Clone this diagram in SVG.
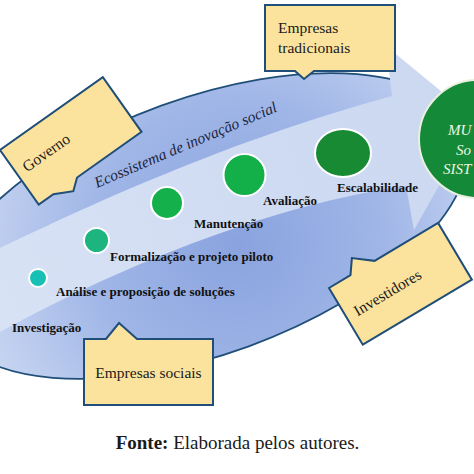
<svg xmlns="http://www.w3.org/2000/svg" width="474" height="474" viewBox="0 0 474 474">
<defs>
<style>
.box{fill:#fce39d;stroke:#1f4e79;stroke-width:2;stroke-linejoin:miter}
.lbl{font-family:"Liberation Serif","DejaVu Serif",serif;font-size:15.5px;fill:#1a1a1a}
.stage{font-family:"Liberation Serif","DejaVu Serif",serif;font-weight:bold;font-size:13px;fill:#111}
.dot{stroke:#ffffff;stroke-width:2}
.big{font-family:"Liberation Serif","DejaVu Serif",serif;font-style:italic;font-size:15px;fill:#eef6e2}
.eco{font-family:"Liberation Serif","DejaVu Serif",serif;font-style:italic;font-size:15.5px;fill:#1c2541}
.src{font-family:"Liberation Serif","DejaVu Serif",serif;font-size:19px;fill:#1a1a1a}
</style>
<radialGradient id="ellFill" gradientUnits="userSpaceOnUse" cx="230" cy="255" r="265">
<stop offset="0" stop-color="#8aa3df"/>
<stop offset="0.55" stop-color="#a0b6e7"/>
<stop offset="1" stop-color="#c6d4f1"/>
</radialGradient>
<linearGradient id="bandFill" gradientUnits="userSpaceOnUse" x1="0" y1="300" x2="470" y2="110">
<stop offset="0" stop-color="#d8e2f5"/>
<stop offset="0.6" stop-color="#cfdbf2"/>
<stop offset="1" stop-color="#cbd8f0"/>
</linearGradient>
</defs>
<rect width="474" height="474" fill="#ffffff"/>

<g id="ecosystem">
<ellipse cx="205" cy="226" rx="276" ry="128" transform="rotate(-20 205 226)" fill="url(#ellFill)" stroke="#1f4e79" stroke-width="1.8"/>
<path d="M0,248 C90,205 230,140 392,96 L386,46 L476,120 L414,230 L406,186 C300,200 150,250 0,332 Z" fill="url(#bandFill)"/>
<text class="eco" x="0" y="0" transform="translate(97 188) rotate(-23)">Ecossistema de inovação social</text>
</g>

<g id="connectors"></g>

<g id="stage-investigacao">
<text class="stage" x="12" y="332">Investigação</text>
</g>
<g id="stage-analise">
<circle class="dot" cx="38" cy="278" r="9" fill="#18bfb4"/>
<text class="stage" x="56" y="296">Análise e proposição de soluções</text>
</g>
<g id="stage-formalizacao">
<circle class="dot" cx="96.5" cy="240.5" r="12.5" fill="#1cb47f"/>
<text class="stage" x="110" y="261">Formalização e projeto piloto</text>
</g>
<g id="stage-manutencao">
<circle class="dot" cx="167" cy="203" r="16" fill="#14b04b"/>
<text class="stage" x="194" y="228">Manutenção</text>
</g>
<g id="stage-avaliacao">
<circle class="dot" cx="244.5" cy="175" r="21" fill="#13b04a"/>
<text class="stage" x="263" y="205">Avaliação</text>
</g>
<g id="stage-escalabilidade">
<ellipse class="dot" cx="343" cy="153" rx="28" ry="24" fill="#178a33"/>
<text class="stage" x="337" y="192">Escalabilidade</text>
</g>

<g id="governo">
<g transform="translate(0 150) rotate(-35.3)">
<path class="box" d="M0,0 H126 V67 H47 L36,76 L18,67 H0 Z"/>
<text class="lbl" x="9" y="34">Governo</text>
</g>
</g>

<g id="empresas-tradicionais">
<path class="box" d="M265,5 H395 V71 H314 L304,79 L295,71 H265 Z"/>
<text class="lbl" x="278" y="33">Empresas</text>
<text class="lbl" x="278" y="53">tradicionais</text>
</g>

<g id="empresas-sociais">
<path class="box" d="M84,339 H106 L119,323 L137,339 H213 V405 H84 Z"/>
<text class="lbl" x="148.5" y="378" text-anchor="middle">Empresas sociais</text>
</g>

<g id="investidores">
<g transform="translate(329 288) rotate(-30.8)">
<path class="box" d="M0,0 H25 L35,-14 L53,0 H127 V66 H0 Z"/>
<text class="lbl" x="10" y="39">Investidores</text>
</g>
</g>

<g id="mudanca">
<circle cx="478" cy="139" r="59" fill="#148a38" stroke="#e8f0e0" stroke-width="2"/>
<text class="big" x="448" y="135">MU</text>
<text class="big" x="456" y="155">So</text>
<text class="big" x="443" y="174">SIST</text>
</g>

<g id="fonte">
<text class="src" x="237.5" y="449" text-anchor="middle"><tspan font-weight="bold">Fonte:</tspan> Elaborada pelos autores.</text>
</g>
</svg>
